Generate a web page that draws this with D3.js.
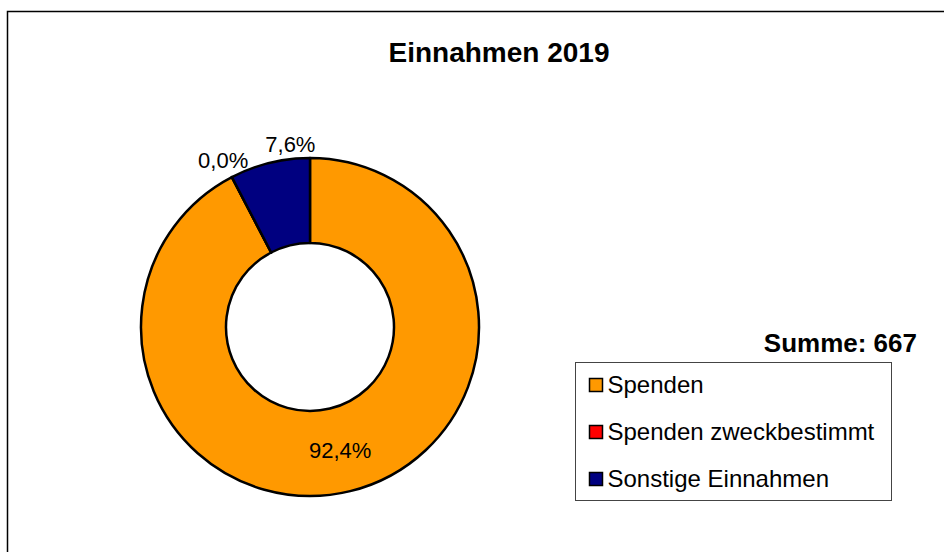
<!DOCTYPE html>
<html>
<head>
<meta charset="utf-8">
<script src="https://cdn.jsdelivr.net/npm/d3@7"></script>
<style>
  body { margin: 0; background: #fff; }
  text { font-family: 'Liberation Sans', Arial, sans-serif; }
</style>
</head>
<body>
<div class="canvas"></div>
<script>
// chart data
const categories = ['Spenden', 'Spenden zweckbestimmt', 'Sonstige Einnahmen']
const values = [616, 0, 51]
const colors = ['#ff9900', '#ff0000', '#000080']
const title = 'Einnahmen 2019'

const dimension = { width: 944, height: 552, outer: 169, inner: 84 }
const center = { x: 310, y: 327 }

const data = categories.map((name, i) => ({ name, value: values[i] }))
const total = d3.sum(values)

const de = d3.formatLocale({ decimal: ',', thousands: '.', grouping: [3], currency: ['', ' €'] })
const pct = de.format('.1%')

const svg = d3.select('.canvas')
  .append('svg')
  .attr('width', dimension.width)
  .attr('height', dimension.height)

// outer frame (runs off the right and bottom edge)
svg.append('rect')
  .attr('x', 7.5)
  .attr('y', 11.5)
  .attr('width', 1000)
  .attr('height', 600)
  .attr('fill', 'none')
  .attr('stroke', '#000')
  .attr('stroke-width', 1.5)

svg.append('text')
  .attr('x', 499)
  .attr('y', 62)
  .attr('text-anchor', 'middle')
  .attr('font-size', 28)
  .attr('font-weight', 'bold')
  .text(title)

const color = d3.scaleOrdinal()
  .domain(categories)
  .range(colors)

const pie = d3.pie()
  .sort(null) // keep the order of the data
  .value(d => d.value)

const arcPath = d3.arc()
  .outerRadius(dimension.outer)
  .innerRadius(dimension.inner)

const midArc = d3.arc()
  .outerRadius((dimension.outer + dimension.inner) / 2)
  .innerRadius((dimension.outer + dimension.inner) / 2)

const outArc = d3.arc()
  .outerRadius(dimension.outer + 19)
  .innerRadius(dimension.outer + 19)

const graph = svg.append('g')
  .attr('transform', `translate(${center.x}, ${center.y})`)

const arcs = pie(data)

graph.selectAll('path')
  .data(arcs)
  .enter()
  .append('path')
    .attr('d', arcPath)
    .attr('fill', d => color(d.data.name))
    .attr('stroke', '#000')
    .attr('stroke-width', 2.5)
    .attr('stroke-linejoin', 'round')

// percentage labels: big slices inside the ring, small ones outside
graph.selectAll('text.label')
  .data(arcs)
  .enter()
  .append('text')
    .attr('class', 'label')
    .each(function(d) {
      const share = d.value / total
      const inside = share > 0.2
      const p = inside ? midArc.centroid(d) : outArc.centroid(d)
      d3.select(this)
        .attr('x', p[0])
        .attr('y', p[1])
        .attr('dy', '0.35em')
        .attr('text-anchor', inside || d.value === 0 ? 'middle' : 'start')
    })
    .attr('font-size', 22)
    .attr('fill', '#000')
    .text(d => pct(d.value / total))

// sum
svg.append('text')
  .attr('x', 917)
  .attr('y', 352)
  .attr('text-anchor', 'end')
  .attr('font-size', 26)
  .attr('font-weight', 'bold')
  .text(`Summe: ${total}`)

// legend
const legend = svg.append('g')
  .attr('transform', 'translate(575.5, 362.5)')

legend.append('rect')
  .attr('width', 316)
  .attr('height', 138)
  .attr('fill', '#fff')
  .attr('stroke', '#444')
  .attr('stroke-width', 1)

const rows = legend.selectAll('g.row')
  .data(categories)
  .enter()
  .append('g')
    .attr('class', 'row')
    .attr('transform', (d, i) => `translate(14, ${16 + i * 47})`)

rows.append('rect')
  .attr('width', 13)
  .attr('height', 13)
  .attr('fill', d => color(d))
  .attr('stroke', '#000')
  .attr('stroke-width', 1.5)

rows.append('text')
  .attr('x', 18)
  .attr('y', 14)
  .attr('font-size', 24)
  .text(d => d)
</script>
</body>
</html>
